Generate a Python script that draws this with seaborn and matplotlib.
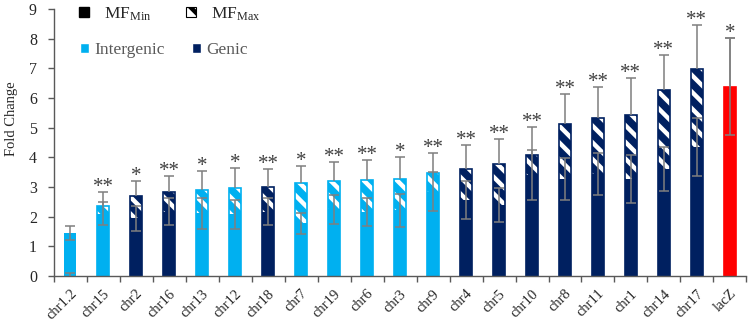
import numpy as np
import pandas as pd
import seaborn as sns
import matplotlib.pyplot as plt
from matplotlib.patches import Patch

# ==================
# data

sites = ['chr1.2', 'chr15', 'chr2', 'chr16', 'chr13', 'chr12', 'chr18', 'chr7', 'chr19', 'chr6',
         'chr3', 'chr9', 'chr4', 'chr5', 'chr10', 'chr8', 'chr11', 'chr1', 'chr14', 'chr17', 'lacZ']
groups = ['Intergenic', 'Intergenic', 'Genic', 'Genic', 'Intergenic', 'Intergenic', 'Genic',
          'Intergenic', 'Intergenic', 'Intergenic', 'Intergenic', 'Intergenic', 'Genic', 'Genic',
          'Genic', 'Genic', 'Genic', 'Genic', 'Genic', 'Genic', 'Control']

mf_max = [0.0, 2.36, 2.69, 2.84, 2.90, 2.96, 3.01, 3.14, 3.20, 3.23, 3.26,
          3.48, 3.59, 3.77, 4.07, 5.11, 5.33, 5.42, 6.26, 6.96, 6.38]
err_max = [0.11, 0.48, 0.52, 0.53, 0.65, 0.67, 0.59, 0.56, 0.65, 0.67, 0.76,
           0.65, 0.82, 0.83, 0.96, 1.02, 1.04, 1.24, 1.20, 1.51, 1.63]
mf_min = [1.45, 2.10, 1.94, 2.17, 2.12, 2.08, 2.17, 1.77, 2.25, 2.15, 2.21,
          2.84, 2.56, 2.40, 3.40, 3.28, 3.45, 3.27, 3.62, 4.35, 6.38]
err_min = [0.23, 0.38, 0.43, 0.45, 0.52, 0.49, 0.45, 0.35, 0.49, 0.48, 0.57,
           0.66, 0.64, 0.58, 0.84, 0.71, 0.71, 0.80, 0.74, 0.99, 1.63]
stars = ['', '**', '*', '**', '*', '*', '**', '*', '**', '**', '*',
         '**', '**', '**', '**', '**', '**', '**', '**', '**', '*']

group_colors = {'Intergenic': '#00B0F0', 'Genic': '#002060', 'Control': '#FF0000'}

df = pd.DataFrame({'site': sites, 'group': groups, 'mf_min': mf_min, 'mf_max': mf_max,
                   'err_min': err_min, 'err_max': err_max, 'stars': stars})
site_colors = {s: group_colors[g] for s, g in zip(sites, groups)}

# ==================
# style

sns.set_style('ticks')
plt.rcParams['font.family'] = ['Liberation Serif', 'DejaVu Serif']
plt.rcParams['mathtext.fontset'] = 'custom'
plt.rcParams['mathtext.rm'] = 'Liberation Serif'
plt.rcParams['mathtext.it'] = 'Liberation Serif:italic'
plt.rcParams['hatch.linewidth'] = 3.2
axis_grey = '#595959'

fig = plt.figure(figsize=(7.49, 3.29), dpi=100)
ax = fig.add_axes([0.0716, 0.161, 0.925, 0.812])

bar_w = 0.36

# MF max bars (hatched, behind)
n0 = len(ax.patches)
sns.barplot(data=df, x='site', y='mf_max', hue='site', palette=site_colors, legend=False,
            width=bar_w, saturation=1, errorbar=None, ax=ax)
for p in ax.patches[n0:]:
    p.set_hatch('\\\\')
    p.set_edgecolor('white')
    p.set_linewidth(0)

# outline of the max bars in the bar colour
n1 = len(ax.patches)
sns.barplot(data=df, x='site', y='mf_max', hue='site', palette=site_colors, legend=False,
            width=bar_w, saturation=1, errorbar=None, ax=ax)
for p in ax.patches[n1:]:
    p.set_facecolor('none')
    p.set_edgecolor(site_colors[sites[int(round(p.get_x() + p.get_width() / 2))]])
    p.set_linewidth(1.2)

# MF min bars (solid, in front)
sns.barplot(data=df, x='site', y='mf_min', hue='site', palette=site_colors, legend=False,
            width=bar_w, saturation=1, errorbar=None, linewidth=0, ax=ax)

x = np.arange(len(sites))

# error bars: symmetric for min, upper only for max
ax.errorbar(x, df['mf_min'], yerr=df['err_min'], fmt='none', ecolor='#7f7f7f',
            elinewidth=1.1, capsize=3.5, capthick=1.1, zorder=4)
eb = ax.errorbar(x, df['mf_max'], yerr=[np.zeros(len(x)), df['err_max']], fmt='none',
                 ecolor='#7f7f7f', elinewidth=1.1, capsize=3.5, capthick=1.1, zorder=4)
for cl in eb[1]:
    if np.allclose(cl.get_ydata(), df['mf_max']):
        cl.set_visible(False)

# significance stars
for xi, top, s in zip(x, df['mf_max'] + df['err_max'], df['stars']):
    if s:
        ax.text(xi, top + 0.0, s, ha='center', va='baseline', fontsize=15, color='#404040')

# axes
ax.set_xlim(-0.5, len(sites) - 0.5)
ax.set_ylim(0, 9)
ax.set_yticks(range(0, 10))
ax.set_xlabel('')
ax.set_ylabel('Fold Change', fontsize=10.5)
ax.yaxis.set_label_coords(-0.052, 0.59)
ax.set_xticks(x)
ax.set_xticklabels(sites, rotation=45, ha='right', rotation_mode='anchor', fontsize=10.5)
ax.set_xticks(np.arange(-0.5, len(sites)), minor=True)
ax.tick_params(axis='x', which='major', length=0, pad=8)
ax.tick_params(axis='x', which='minor', length=4, width=1, color=axis_grey, direction='out')
ax.tick_params(axis='y', length=4, width=1, color=axis_grey, labelsize=11.5, pad=8)
for side in ['left', 'bottom']:
    ax.spines[side].set_color(axis_grey)
    ax.spines[side].set_linewidth(1)
sns.despine(ax=ax)

# legends
h_min = Patch(facecolor='black', edgecolor='black')
h_max = Patch(facecolor='white', edgecolor='black', hatch='\\\\', linewidth=0.8)
leg1 = ax.legend([h_min, h_max], ['MF$_{\\mathrm{Min}}$', 'MF$_{\\mathrm{Max}}$'], ncol=2,
                 loc='center left', bbox_to_anchor=(79 / 749, 1 - 14 / 329),
                 bbox_transform=fig.transFigure, frameon=False, fontsize=12.5,
                 handlelength=0.55, handleheight=0.55, handletextpad=0.9,
                 columnspacing=2.0, borderpad=0, borderaxespad=0)
ax.add_artist(leg1)
h_int = Patch(facecolor=group_colors['Intergenic'])
h_gen = Patch(facecolor=group_colors['Genic'])
ax.legend([h_int, h_gen], ['Intergenic', 'Genic'], ncol=2,
          loc='center left', bbox_to_anchor=(80 / 749, 1 - 50 / 329),
          bbox_transform=fig.transFigure, frameon=False, fontsize=12.5, labelcolor=axis_grey,
          handlelength=0.5, handleheight=0.5, handletextpad=0.3,
          columnspacing=1.6, borderpad=0, borderaxespad=0)

plt.savefig('out.png', dpi=100)
plt.close()
